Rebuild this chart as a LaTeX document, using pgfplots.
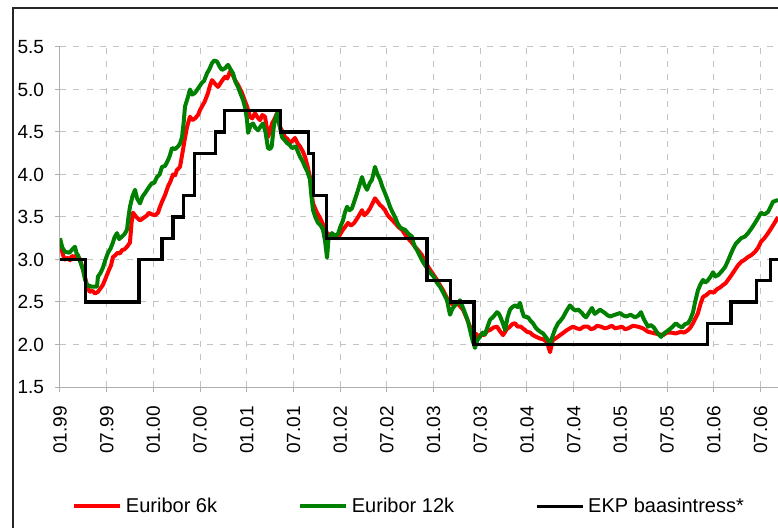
\documentclass[border=0pt]{standalone}
\usepackage{fontspec}
\setmainfont{Liberation Sans}
\usepackage{pgfplots}
\pgfplotsset{compat=1.18}
\definecolor{eurred}{RGB}{255,0,0}
\definecolor{eurgreen}{RGB}{0,128,0}
\definecolor{gridgray}{RGB}{195,195,195}
\definecolor{axgray}{RGB}{175,175,175}
\begin{document}
\begin{tikzpicture}
\useasboundingbox (-45pt,-105.75pt) rectangle (538.5pt,290.25pt);
\draw[line width=1.4pt, black!85] (-35.25pt,-140pt) rectangle (560pt,284.25pt);
\begin{axis}[
  at={(0pt,0pt)}, anchor=south west,
  scale only axis, width=538.5pt, height=255pt,
  xmin=0, xmax=92.25, ymin=1.5, ymax=5.5,
  axis lines=left, axis line style={-, axgray, line width=0.75pt},
  tick align=outside, major tick length=3.75pt,
  tick style={axgray, line width=0.75pt},
  xtick={0,6,12,18,24,30,36,42,48,54,60,66,72,78,84,90},
  xticklabels={01.99,07.99,01.00,07.00,01.01,07.01,01.02,07.02,01.03,07.03,01.04,07.04,01.05,07.05,01.06,07.06},
  ytick={1.5,2.0,2.5,3.0,3.5,4.0,4.5,5.0,5.5},
  yticklabels={1.5,2.0,2.5,3.0,3.5,4.0,4.5,5.0,5.5},
  ticklabel style={font=\fontsize{14.3pt}{17pt}\selectfont},
  xticklabel style={rotate=90, anchor=east, inner sep=0pt},
  yticklabel style={anchor=east, inner sep=0pt},
  xticklabel shift=10.5pt, yticklabel shift=8pt,
  xmajorgrids, ymajorgrids,
  grid style={gridgray, line width=0.75pt, dash pattern=on 4.5pt off 5.5pt},
  legend columns=3,
  legend style={at={(0,0)}, anchor=west, xshift=9pt, yshift=-89.5pt,
    draw=none, fill=none, inner sep=0pt, nodes={inner sep=0pt},
    font=\fontsize{15pt}{18pt}\selectfont,
    /tikz/every odd column/.append style={column sep=3pt},
    /tikz/every even column/.append style={column sep=60.75pt}},
  legend image code/.code={\draw[#1] (0pt,0pt) -- (34.3pt,0pt);},
  clip=true,
]
\addplot[eurred, line width=3pt, line join=round] coordinates {
(0,3.23) (0.2,3.12) (0.39,3.05) (0.64,3.0) (1.03,3.02) (1.3,2.99) (1.5,3.04) (1.93,3.03) (2.2,3.06) (2.57,3.0)
(2.96,2.88) (3.47,2.7) (3.8,2.62) (4.2,2.63) (4.5,2.6) (4.88,2.62) (5.2,2.66) (5.5,2.7) (5.78,2.76)
(6.3,2.88) (6.55,2.93) (6.81,3.03) (7.1,3.05) (7.4,3.08) (7.7,3.07) (7.97,3.11) (8.3,3.12) (8.61,3.15) (8.99,3.2) (9.2,3.44) (9.38,3.55)
(9.8,3.50) (10.28,3.46) (10.6,3.48) (10.9,3.50) (11.2,3.52) (11.4,3.55) (11.82,3.53) (12.2,3.52) (12.59,3.55)
(12.85,3.62) (13.11,3.68) (13.5,3.76) (13.88,3.86) (14.2,3.92) (14.52,4.0) (14.8,3.99) (15.0,4.05) (15.42,4.09)
(15.80,4.29) (16.0,4.40) (16.32,4.56) (16.70,4.68) (17.0,4.64) (17.35,4.66) (17.73,4.70) (18.0,4.76) (18.24,4.80)
(18.6,4.86) (19.02,4.96) (19.25,5.04) (19.53,5.11) (19.9,5.07) (20.30,5.03) (20.8,5.1) (21.20,5.15) (21.5,5.13) (21.84,5.21)
(22.2,5.17) (22.49,5.11) (22.9,5.05) (23.38,4.96) (24.03,4.80) (24.41,4.68) (24.7,4.66) (25.05,4.72) (25.4,4.67) (25.70,4.64)
(26.0,4.70) (26.34,4.68) (26.55,4.56) (26.72,4.44) (27.0,4.52) (27.24,4.6) (27.6,4.66) (27.88,4.72) (28.27,4.56) (28.6,4.50) (28.91,4.44)
(29.2,4.42) (29.55,4.37) (29.9,4.40) (30.19,4.43) (30.5,4.37) (30.84,4.33) (31.2,4.27) (31.48,4.21) (31.8,4.10) (32.12,3.97) (32.3,3.80) (32.51,3.66)
(33.02,3.55) (33.35,3.50) (33.66,3.44) (34.0,3.37) (34.31,3.31) (34.95,3.27) (35.3,3.28) (35.72,3.25) (36.0,3.30) (36.36,3.35)
(37.00,3.43) (37.4,3.40) (37.8,3.43) (38.3,3.50) (38.80,3.58) (39.1,3.52) (39.45,3.55) (39.83,3.6) (40.2,3.67) (40.47,3.72)
(40.8,3.68) (41.12,3.64) (41.4,3.62) (41.76,3.58) (42.1,3.52) (42.40,3.49) (43.04,3.43) (43.5,3.38) (43.94,3.35) (44.3,3.30) (44.71,3.25)
(45.2,3.20) (45.61,3.15) (46.1,3.10) (46.51,3.05) (47.0,2.96) (47.54,2.88) (48.0,2.82) (48.44,2.76) (48.8,2.70) (49.21,2.64) (49.7,2.55) (50.11,2.49)
(50.5,2.47) (51.0,2.49) (51.4,2.45) (51.78,2.41) (52.2,2.32) (52.68,2.21) (53.06,2.11) (53.4,2.13) (53.71,2.09) (54.1,2.12) (54.5,2.11)
(54.9,2.16) (55.25,2.17) (55.7,2.20) (56.15,2.21) (56.5,2.16) (56.92,2.11) (57.4,2.18) (57.82,2.21) (58.1,2.24) (58.46,2.25) (58.8,2.21) (59.2,2.21)
(59.6,2.18) (60.00,2.15) (60.4,2.14) (60.77,2.11) (61.2,2.09) (61.67,2.07) (62.1,2.06) (62.57,2.03) (62.96,1.91) (63.3,2.05)
(63.8,2.08) (64.24,2.11) (64.7,2.14) (65.14,2.17) (65.5,2.19) (65.91,2.21) (66.4,2.19) (66.8,2.18) (67.3,2.21) (67.84,2.21) (68.2,2.18) (68.6,2.19)
(69.0,2.22) (69.51,2.21) (70.0,2.19) (70.4,2.20) (70.9,2.22) (71.31,2.19) (71.8,2.20) (72.2,2.21) (72.6,2.18) (73.0,2.19) (73.6,2.22) (74.26,2.21)
(74.9,2.19) (75.55,2.15) (76.0,2.14) (76.45,2.13) (77.0,2.12) (77.48,2.11) (78.0,2.14) (78.5,2.14) (79.1,2.13) (79.79,2.15) (80.2,2.14) (80.69,2.17)
(81.0,2.20) (81.33,2.25) (81.97,2.37) (82.3,2.48) (82.62,2.56) (83.0,2.58) (83.52,2.62) (84.0,2.61) (84.4,2.65) (84.8,2.67) (85.19,2.70)
(85.5,2.72) (85.83,2.76) (86.3,2.82) (86.73,2.88) (87.1,2.93) (87.50,2.97) (88.0,3.00) (88.40,3.03) (88.8,3.05) (89.30,3.09) (89.7,3.14) (90.07,3.21)
(90.5,3.25) (90.97,3.31) (91.4,3.37) (91.87,3.44) (92.25,3.5)
};
\addlegendentry{Euribor 6k}
\addplot[eurgreen, line width=3pt, line join=round] coordinates {
(0,3.25) (0.3,3.14) (0.64,3.09) (1.2,3.08) (1.6,3.12) (1.93,3.15) (2.1,3.08) (2.3,3.05) (2.96,2.88) (3.2,2.77) (3.47,2.7)
(4.1,2.68) (4.75,2.68) (4.88,2.8) (5.2,2.84) (5.5,2.9) (5.85,3.0) (6.17,3.08) (6.5,3.13) (6.8,3.2) (7.0,3.26) (7.32,3.31)
(7.6,3.24) (7.97,3.27) (8.3,3.30) (8.61,3.35) (8.8,3.50) (8.99,3.62) (9.3,3.74) (9.64,3.82) (9.9,3.72) (10.28,3.66) (10.6,3.74) (10.92,3.78)
(11.2,3.82) (11.5,3.86) (11.82,3.90) (12.1,3.90) (12.46,3.97) (12.8,4.00) (13.11,4.09) (13.5,4.10) (13.88,4.17) (14.1,4.22) (14.39,4.31) (14.8,4.30) (15.16,4.33)
(15.4,4.36) (15.68,4.44) (15.9,4.62) (16.06,4.80) (16.4,4.90) (16.70,5.0) (17.0,4.94) (17.35,4.96) (17.8,5.02) (18.24,5.08) (18.5,5.10) (18.89,5.19)
(19.2,5.24) (19.53,5.31) (19.8,5.34) (20.17,5.33) (20.5,5.27) (20.81,5.23) (21.2,5.25) (21.59,5.29) (21.9,5.24) (22.23,5.19) (22.5,5.10) (22.87,5.03)
(23.2,4.95) (23.51,4.88) (23.8,4.78) (24.03,4.64) (24.16,4.49) (24.5,4.58) (24.8,4.6) (25.1,4.55) (25.44,4.52) (25.8,4.57) (26.08,4.6)
(26.4,4.50) (26.72,4.31) (27.0,4.30) (27.2,4.33) (27.45,4.55) (27.62,4.64) (27.9,4.72) (28.2,4.58) (28.52,4.44) (28.9,4.40) (29.17,4.37)
(29.5,4.35) (29.81,4.31) (30.3,4.33) (30.6,4.26) (30.84,4.21) (31.2,4.15) (31.48,4.09) (31.8,4.03) (32.12,3.94) (32.3,3.75) (32.51,3.58)
(32.8,3.50) (33.15,3.43) (33.5,3.40) (33.79,3.35) (34.05,3.22) (34.31,3.02) (34.5,3.25) (34.95,3.31) (35.3,3.28) (35.72,3.3)
(36.0,3.38) (36.36,3.46) (36.6,3.55) (36.88,3.62) (37.2,3.58) (37.5,3.60) (37.8,3.68) (38.16,3.78) (38.5,3.88) (38.80,3.97) (39.1,3.88) (39.45,3.82)
(39.8,3.90) (40.09,3.94) (40.3,4.02) (40.47,4.09) (40.8,4.00) (41.12,3.94) (41.4,3.86) (41.76,3.78) (42.1,3.70) (42.40,3.62) (42.7,3.56) (43.04,3.50)
(43.4,3.42) (43.69,3.38) (44.0,3.36) (44.33,3.35) (44.8,3.30) (45.23,3.27) (45.4,3.20) (45.6,3.15) (45.87,3.11) (46.3,3.03) (46.64,2.97)
(47.15,2.9) (47.6,2.84) (48.0,2.8) (48.4,2.73) (48.82,2.68) (49.3,2.60) (49.72,2.52) (50.11,2.35) (50.4,2.42) (50.75,2.46) (51.1,2.49)
(51.39,2.52) (51.7,2.45) (52.04,2.37) (52.4,2.28) (52.68,2.17) (53.0,2.05) (53.32,1.96) (53.6,2.05) (53.96,2.09) (54.3,2.14) (54.6,2.12)
(54.9,2.20) (55.25,2.29) (55.7,2.33) (56.15,2.38) (56.4,2.36) (56.6,2.32) (56.9,2.25) (57.18,2.17) (57.5,2.32) (57.82,2.41) (58.1,2.44) (58.46,2.46)
(58.8,2.44) (59.10,2.49) (59.35,2.40) (59.6,2.33) (60.13,2.32) (60.45,2.28) (60.77,2.25) (61.1,2.20) (61.42,2.17) (61.7,2.15) (62.06,2.13)
(62.4,2.09) (62.70,2.05) (63.0,2.02) (63.3,2.1) (63.6,2.18) (63.99,2.25) (64.3,2.28) (64.63,2.32) (65.1,2.40) (65.53,2.46) (65.9,2.42) (66.2,2.4)
(66.6,2.41) (67.07,2.37) (67.3,2.34) (67.6,2.32) (68.0,2.38) (68.35,2.43) (68.7,2.36) (69.0,2.38) (69.38,2.41) (69.7,2.39) (70.02,2.37)
(70.4,2.34) (70.7,2.33) (71.3,2.35) (71.95,2.37) (72.4,2.34) (72.8,2.33) (73.3,2.35) (73.88,2.32) (74.3,2.34) (74.65,2.38) (75.0,2.30) (75.55,2.21)
(75.9,2.23) (76.3,2.2) (76.8,2.13) (77.22,2.09) (77.6,2.13) (78.2,2.17) (78.6,2.20) (79.15,2.25) (79.5,2.22) (79.9,2.2) (80.3,2.24) (80.69,2.25)
(81.0,2.30) (81.33,2.38) (81.6,2.50) (81.97,2.64) (82.3,2.71) (82.62,2.76) (82.9,2.73) (83.2,2.75) (83.6,2.80) (83.90,2.85) (84.2,2.80) (84.6,2.82)
(85.0,2.86) (85.44,2.91) (85.8,2.98) (86.21,3.07) (86.5,3.13) (86.86,3.19) (87.2,3.22) (87.50,3.25) (88.0,3.27) (88.40,3.31) (88.8,3.36) (89.30,3.43)
(89.7,3.49) (90.07,3.55) (90.5,3.53) (90.97,3.56) (91.3,3.62) (91.61,3.68) (92.25,3.7)
};
\addlegendentry{Euribor 12k}
\addplot[black, line width=2.5pt, const plot, line join=miter] coordinates {
(0,3.00) (3.27,2.50) (10.13,3.00) (13.10,3.25) (14.52,3.50) (15.90,3.75)
(17.27,4.25) (20.00,4.50) (21.16,4.75) (28.32,4.50) (31.97,4.25) (32.57,3.75)
(34.27,3.25) (47.16,2.75) (50.19,2.50) (53.17,2.00) (83.16,2.25) (86.23,2.50)
(89.47,2.75) (91.26,3.00) (92.25,3.00)
};
\addlegendentry{EKP baasintress*}
\end{axis}
\end{tikzpicture}
\end{document}
